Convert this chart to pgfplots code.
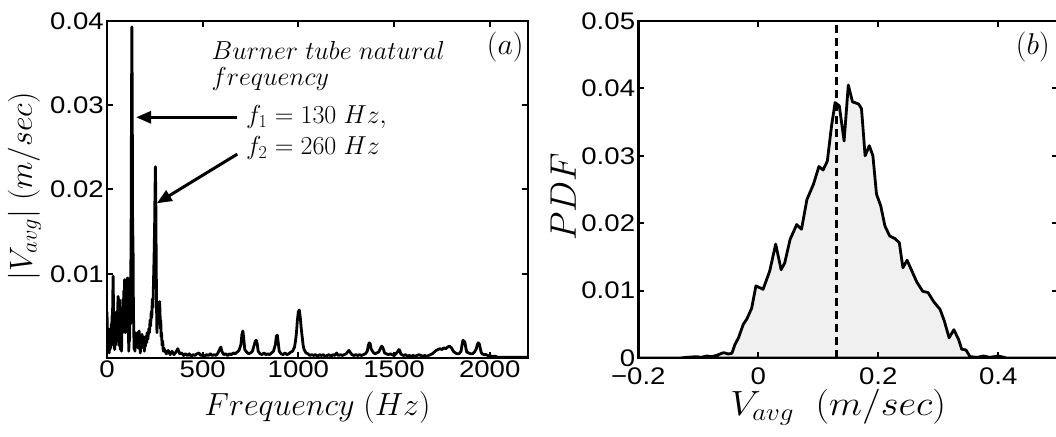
\RequirePackage{fix-cm}
\documentclass[border=0pt]{standalone}
\usepackage[no-math]{fontspec}
\setmainfont{Liberation Sans}
\newfontfamily\tickfont{Liberation Sans}[FakeStretch=1.15]
\usepackage{graphicx}
\usepackage{pgfplots}
\pgfplotsset{compat=1.18}
\usetikzlibrary{arrows.meta}

\pgfplotsset{
  myaxis/.style={
    scale only axis,
    anchor=south west,
    tick align=inside,
    major tick length=6pt,
    axis line style={line width=2.5pt},
    every tick/.style={line width=2pt, black},
    tick label style={font=\tickfont\fontsize{24}{27}\selectfont},
    yticklabel style={inner xsep=3pt},
    scaled ticks=false,
    axis on top,
  }
}

\begin{document}
\begin{tikzpicture}
\path[use as bounding box] (0,0) rectangle (1056pt,436pt);
\clip (0,0) rectangle (1056pt,436pt);

% ---------------- (a) spectrum ----------------
\begin{axis}[myaxis,
  at={(107pt,78pt)}, width=421pt, height=337pt,
  xmin=0, xmax=2200, ymin=0, ymax=0.04,
  xtick={0,500,1000,1500,2000},
  xticklabels={0,500,1000,1500,2000},
  xticklabel style={yshift=1pt},
  ytick={0,0.01,0.02,0.03,0.04},
  yticklabels={,0.01,0.02,0.03,0.04},
  xlabel={$Frequency\ (Hz)$},
  xlabel style={at={(axis description cs:0.5,-0.148)}, anchor=center, font=\fontsize{32}{36}\selectfont},
  ylabel={$|V_{avg}|\ (m/sec)$},
  ylabel style={at={(axis description cs:-0.196,0.509)}, anchor=center, inner sep=0pt, font=\fontsize{32}{36}\selectfont},
]
\addplot[black, line width=2.8pt, line join=round] coordinates {
(0,0.0055) (2,0.0030) (4,0.0012) (6,0.0035) (8,0.0008) (10,0.0020) (12,0.0006) (14,0.0025)
(16,0.0010) (18,0.0030) (20,0.0012) (22,0.0040) (24,0.0015) (26,0.0050) (28,0.0025) (30,0.0070)
(32,0.0097) (34,0.0060) (36,0.0020) (38,0.0045) (40,0.0010) (42,0.0035) (44,0.0015) (46,0.0050)
(48,0.0030) (50,0.0055) (52,0.0020) (54,0.0040) (56,0.0060) (58,0.0073) (60,0.0045) (62,0.0015)
(64,0.0055) (66,0.0069) (68,0.0030) (70,0.0010) (72,0.0045) (74,0.0025) (76,0.0008) (78,0.0040)
(80,0.0060) (82,0.0030) (84,0.0070) (86,0.0050) (88,0.0080) (90,0.0060) (92,0.0093) (94,0.0070)
(96,0.0030) (98,0.0085) (100,0.0060) (102,0.0090) (104,0.0040) (106,0.0095) (108,0.0070) (110,0.0095)
(112,0.0030) (114,0.0008) (116,0.0050) (118,0.0020) (120,0.0060) (122,0.0040) (124,0.0090) (126,0.0150)
(128,0.0300) (130,0.0393) (132,0.0300) (134,0.0150) (136,0.0140) (138,0.0060) (140,0.0030) (142,0.0010)
(144,0.0025) (146,0.0008) (148,0.0030) (150,0.0015) (153,0.0028) (156,0.0020) (159,0.0030) (162,0.0012)
(165,0.0025) (168,0.0032) (171,0.0018) (174,0.0006) (177,0.0022) (180,0.0015) (183,0.0028) (186,0.0020)
(189,0.0012) (192,0.0025) (195,0.0008) (198,0.0020) (201,0.0014) (204,0.0026) (207,0.0018) (210,0.0030)
(213,0.0022) (216,0.0028) (219,0.0035) (222,0.0030) (225,0.0045) (228,0.0038) (231,0.0055) (234,0.0048)
(237,0.0070) (240,0.0060) (243,0.0090) (246,0.0120) (249,0.0160) (251,0.0200) (253,0.0227) (255,0.0190)
(257,0.0120) (259,0.0060) (261,0.0030) (263,0.0055) (265,0.0040) (267,0.0060) (269,0.0045) (271,0.0065)
(273,0.0050) (275,0.0067) (277,0.0055) (279,0.0035) (281,0.0045) (283,0.0025) (285,0.0030) (288,0.0015)
(291,0.0020) (294,0.0008) (297,0.0012) (300,0.0010)
(310,0.0005) (320,0.0009) (330,0.0004) (340,0.0008) (350,0.0004) (360,0.0007) (365,0.0009) (370,0.0011)
(375,0.0008) (380,0.0005) (390,0.0006) (400,0.0003) (410,0.0005) (420,0.0003) (430,0.0005) (440,0.0002)
(450,0.0004) (460,0.0003) (470,0.0005) (480,0.0006) (490,0.0003) (500,0.0004) (510,0.0002) (520,0.0004)
(530,0.0003) (540,0.0005) (550,0.0003) (560,0.0004) (570,0.0003) (580,0.0006) (590,0.0011) (595,0.0013)
(600,0.0008) (610,0.0004) (620,0.0005) (630,0.0003) (640,0.0005) (650,0.0004) (660,0.0006) (670,0.0005)
(680,0.0007) (690,0.0009) (700,0.0016) (705,0.0028) (710,0.0032) (715,0.0022) (720,0.0010) (730,0.0007)
(740,0.0005) (750,0.0006) (760,0.0008) (770,0.0016) (775,0.0020) (780,0.0021) (785,0.0017) (790,0.0008)
(800,0.0005) (810,0.0004) (820,0.0006) (830,0.0004) (840,0.0005) (850,0.0004) (860,0.0006) (870,0.0008)
(880,0.0016) (885,0.0026) (890,0.0027) (895,0.0018) (900,0.0008) (910,0.0005) (920,0.0004) (930,0.0006)
(940,0.0004) (950,0.0005) (960,0.0007) (970,0.0008) (980,0.0013) (985,0.0020) (990,0.0030) (995,0.0045)
(1000,0.0055) (1005,0.0057) (1010,0.0048) (1015,0.0035) (1020,0.0025) (1025,0.0015) (1030,0.0010) (1040,0.0006)
(1050,0.0005) (1060,0.0003) (1070,0.0004) (1080,0.0003) (1090,0.0004) (1100,0.0002) (1110,0.0004) (1120,0.0003)
(1130,0.0004) (1140,0.0002) (1150,0.0003) (1160,0.0004) (1170,0.0002) (1180,0.0004) (1190,0.0003) (1200,0.0006)
(1205,0.0004) (1210,0.0003) (1220,0.0004) (1230,0.0003) (1240,0.0004) (1250,0.0005) (1260,0.0008) (1265,0.0009)
(1270,0.0007) (1280,0.0004) (1290,0.0003) (1300,0.0004) (1310,0.0003) (1320,0.0004) (1330,0.0003) (1340,0.0004)
(1350,0.0005) (1360,0.0008) (1365,0.0014) (1370,0.0018) (1375,0.0017) (1380,0.0011) (1390,0.0007) (1400,0.0005)
(1410,0.0006) (1420,0.0007) (1430,0.0012) (1435,0.0014) (1440,0.0013) (1445,0.0010) (1450,0.0006) (1460,0.0005)
(1470,0.0004) (1480,0.0005) (1490,0.0004) (1500,0.0003) (1510,0.0005) (1520,0.0008) (1525,0.0010) (1530,0.0009)
(1535,0.0005) (1540,0.0004) (1550,0.0003) (1560,0.0004) (1570,0.0002) (1580,0.0003) (1590,0.0002) (1600,0.0003)
(1610,0.0002) (1620,0.0003) (1630,0.0004) (1640,0.0003) (1650,0.0002) (1660,0.0003) (1670,0.0002) (1680,0.0003)
(1690,0.0004) (1700,0.0005) (1710,0.0007) (1720,0.0009) (1730,0.0010) (1740,0.0011) (1750,0.0010) (1760,0.0012)
(1770,0.0011) (1780,0.0013) (1790,0.0014) (1800,0.0012) (1810,0.0008) (1820,0.0006) (1830,0.0005) (1840,0.0005)
(1850,0.0008) (1855,0.0015) (1860,0.0021) (1865,0.0020) (1870,0.0019) (1875,0.0012) (1880,0.0007) (1890,0.0006)
(1900,0.0005) (1910,0.0005) (1920,0.0007) (1930,0.0011) (1935,0.0016) (1940,0.0018) (1945,0.0017) (1950,0.0012)
(1955,0.0007) (1960,0.0005) (1970,0.0004) (1980,0.0004) (1990,0.0003) (2000,0.0003) (2010,0.0002) (2020,0.0002)
(2030,0.0002) (2040,0.0001) (2060,0.0001) (2080,0.0001) (2100,0.0001) (2120,0.0001) (2140,0.0001) (2160,0.0001)
(2180,0.0001) (2200,0.0001)
};
\draw[black, line width=3pt, -{Triangle[length=15pt,width=12pt]}] (axis cs:681,0.02857) -- (axis cs:152,0.02857);
\draw[black, line width=3pt, -{Triangle[length=15pt,width=12pt]}] (axis cs:681,0.0242) -- (axis cs:260,0.01836);
\node[anchor=base west, inner sep=0pt, font=\fontsize{26}{30}\selectfont] at (axis cs:546,0.03545) {$Burner\ tube\ natural$};
\node[anchor=base west, inner sep=0pt, font=\fontsize{26}{30}\selectfont] at (axis cs:546,0.0324) {$frequency$};
\node[anchor=base west, inner sep=0pt, font=\fontsize{26}{30}\selectfont] at (axis cs:726,0.0278) {$f_1=130\ Hz,$};
\node[anchor=base west, inner sep=0pt, font=\fontsize{26}{30}\selectfont] at (axis cs:726,0.0241) {$f_2=260\ Hz$};
\node[anchor=north east, inner sep=0pt, font=\fontsize{30}{34}\selectfont] at (rel axis cs:0.99,0.967) {$(a)$};
\end{axis}

% ---------------- (b) PDF ----------------
\begin{axis}[myaxis,
  at={(638.3pt,78pt)}, width=420pt, height=337pt,
  xmin=-0.2, xmax=0.5, ymin=0, ymax=0.05,
  xtick={-0.2,0,0.2,0.4},
  xticklabels={−0.2,0,0.2,0.4},
  xticklabel style={yshift=-6pt},
  ytick={0,0.01,0.02,0.03,0.04,0.05},
  yticklabels={0,0.01,0.02,0.03,0.04,0.05},
  xlabel={\scalebox{1.1}[1]{$V_{avg}\ \ (m/sec)$}},
  xlabel style={at={(axis description cs:0.476,-0.147)}, anchor=center, font=\fontsize{35}{40}\selectfont},
  ylabel={$PDF$},
  ylabel style={at={(axis description cs:-0.179,0.478)}, anchor=center, font=\fontsize{37}{42}\selectfont},
]
\addplot[black, line width=2.8pt, fill=black!6, line join=round] coordinates {
(-0.2,0) (-0.13,0) (-0.119,0.0001) (-0.103,0.0002) (-0.095,0.0001) (-0.086,0.0003) (-0.078,0.0002)
(-0.069,0.0004) (-0.058,0.0008) (-0.05,0.0006) (-0.044,0.0007) (-0.039,0.002) (-0.033,0.003)
(-0.025,0.005) (-0.019,0.0058) (-0.011,0.0074) (-0.004,0.0107) (0.008,0.0102) (0.019,0.0129)
(0.029,0.0169) (0.038,0.0131) (0.044,0.0141) (0.053,0.0176) (0.064,0.0198) (0.072,0.0191)
(0.081,0.0235) (0.092,0.0258) (0.101,0.0284) (0.108,0.0279) (0.115,0.0292) (0.122,0.0344)
(0.128,0.0379) (0.135,0.0374) (0.143,0.0322) (0.150,0.0405) (0.157,0.0380) (0.167,0.0377)
(0.172,0.0370) (0.178,0.0300) (0.185,0.0315) (0.191,0.0300) (0.197,0.0243) (0.204,0.0226)
(0.211,0.0196) (0.219,0.0181) (0.228,0.0177) (0.235,0.0171) (0.241,0.0134) (0.248,0.0145)
(0.256,0.0129) (0.264,0.0113) (0.274,0.0099) (0.283,0.0097) (0.292,0.0084) (0.303,0.0072)
(0.310,0.0055) (0.318,0.0030) (0.326,0.0042) (0.334,0.0027) (0.339,0.0013) (0.346,0.0012)
(0.353,0.0002) (0.365,0.0001) (0.375,0.0003) (0.386,0.0001) (0.400,0.0003) (0.414,0) (0.5,0)
} \closedcycle;
\addplot[black, line width=2.5pt, dash pattern=on 8pt off 5pt] coordinates {(0.13,0) (0.13,0.05)};
\node[anchor=north east, inner sep=0pt, font=\fontsize{30}{34}\selectfont] at (rel axis cs:0.98,0.967) {$(b)$};
\end{axis}
\end{tikzpicture}
\end{document}
